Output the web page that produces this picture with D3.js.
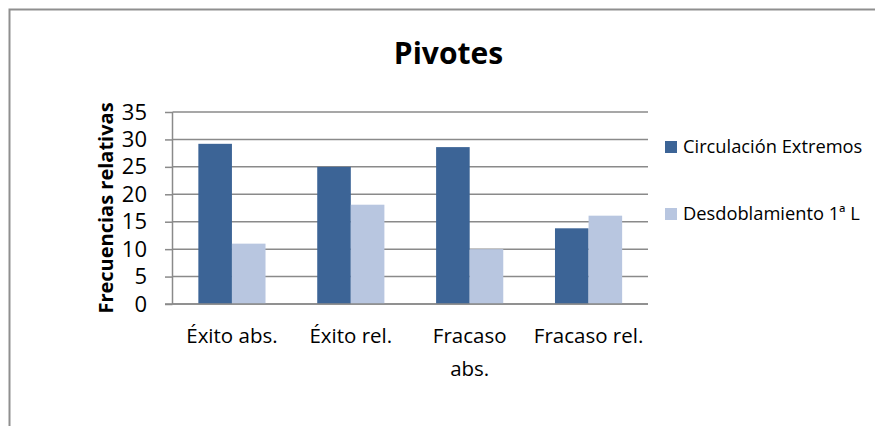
<!DOCTYPE html>
<html><head><meta charset="utf-8">
<script src="https://cdn.jsdelivr.net/npm/d3@7"></script>
<style>
html,body{margin:0;padding:0;background:#fff;}
svg{display:block;font-family:"Open Sans",sans-serif;}
</style></head>
<body><svg id="c" width="875" height="426"></svg>
<script>
const title = "Pivotes";
const yTitle = "Frecuencias relativas";
const categories = ["Éxito abs.", "Éxito rel.", "Fracaso abs.", "Fracaso rel."];
const categoryLabels = [["Éxito abs."], ["Éxito rel."], ["Fracaso", "abs."], ["Fracaso rel."]];
const seriesNames = ["Circulación Extremos", "Desdoblamiento 1ª L"];
const circulacion = [29.2, 25.0, 28.6, 13.8];
const desdoblamiento = [11.0, 18.1, 10.0, 16.1];
const yTicks = [0, 5, 10, 15, 20, 25, 30, 35];
const colors = ["#3C6496", "#B8C6E0"];

const svg = d3.select("#c");
const series = [circulacion, desdoblamiento];

// chart border (top & left visible)
svg.append("path").attr("d","M9.5,426 L9.5,9.5 L875,9.5")
  .attr("fill","none").attr("stroke","#8f8f8f").attr("stroke-width",2);

const L = 172.5, R = 648, T = 112, B = 304;
const x0 = d3.scaleBand().domain(categories).range([L, R]).paddingInner(0.435).paddingOuter(0.2175);
const x1 = d3.scaleBand().domain(d3.range(series.length)).range([0, x0.bandwidth()]);
const y = d3.scaleLinear().domain([0, 35]).range([B, T]);

// gridlines
svg.append("g").selectAll("line").data(yTicks).join("line")
  .attr("x1", L).attr("x2", R).attr("y1", d => y(d)).attr("y2", d => y(d))
  .attr("stroke", "#8a8a8a").attr("stroke-width", 1.5);

// bars
categories.forEach((c, i) => {
  series.forEach((s, j) => {
    svg.append("rect")
      .attr("x", x0(c) + x1(j)).attr("width", x1.bandwidth())
      .attr("y", y(s[i])).attr("height", y(0) - y(s[i]))
      .attr("fill", colors[j]);
  });
});

// y axis
const yAxis = d3.axisLeft(y).tickValues(yTicks).tickSize(7.5).tickPadding(18);
const gy = svg.append("g").attr("transform", `translate(${L},0)`).call(yAxis);
gy.select(".domain").attr("stroke", "#8a8a8a").attr("stroke-width", 1.5).attr("d", `M0,${T}V${B}`);
gy.selectAll(".tick line").attr("stroke", "#8a8a8a").attr("stroke-width", 1.5);
gy.selectAll(".tick text").attr("font-family", "Open Sans").attr("font-size", 22).attr("fill", "#000");
// bottom axis line
svg.append("line").attr("x1", L - 7.5).attr("x2", R).attr("y1", B).attr("y2", B)
  .attr("stroke", "#8a8a8a").attr("stroke-width", 1.5);

// category labels
categories.forEach((c, i) => {
  const t = svg.append("text").attr("text-anchor", "middle")
    .attr("font-size", 20.5).attr("fill", "#000");
  categoryLabels[i].forEach((ln, k) => {
    t.append("tspan").attr("x", x0(c) + x0.bandwidth() / 2).attr("y", 343 + k * 33).text(ln);
  });
});

// title
svg.append("text").attr("x", 448.5).attr("y", 63.5).attr("text-anchor", "middle")
  .attr("font-size", 30).attr("font-weight", "bold").text(title);

// y title
svg.append("text").attr("transform", `translate(113,${(T + B) / 2}) rotate(-90)`)
  .attr("text-anchor", "middle").attr("font-size", 20).attr("font-weight", "bold").text(yTitle);

// legend
const legY = [153, 220];
seriesNames.forEach((n, j) => {
  svg.append("rect").attr("x", 665).attr("y", legY[j] - 12).attr("width", 12).attr("height", 12).attr("fill", colors[j]);
  svg.append("text").attr("x", 683).attr("y", legY[j]).attr("font-size", 18.3).text(n);
});
</script></body></html>
